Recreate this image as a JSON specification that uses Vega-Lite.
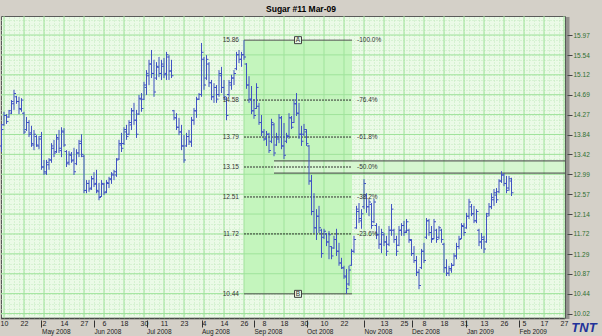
{
  "$schema": "https://vega.github.io/schema/vega-lite/v6.json",
  "width": 564,
  "height": 302,
  "autosize": {"type": "none"},
  "padding": {"left": 1, "top": 16, "right": 37, "bottom": 18},
  "background": "#d4d0c8",
  "title": {"text": "Sugar #11 Mar-09", "fontSize": 8.5, "fontWeight": "bold", "font": "Liberation Sans", "color": "#000000", "anchor": "middle", "dx": 18, "offset": -5, "baseline": "alphabetic"},
  "config": {
    "view": {"fill": "#ebfae7", "stroke": "#5a5a5a", "strokeWidth": 1},
    "font": "Liberation Sans"
  },
  "datasets": {
    "vgrid": [{"v":0},{"v":8},{"v":16},{"v":24},{"v":32},{"v":40},{"v":48},{"v":56},{"v":64},{"v":72},{"v":80},{"v":88},{"v":96},{"v":104},{"v":112},{"v":120},{"v":128},{"v":136},{"v":144},{"v":152},{"v":160},{"v":168},{"v":176},{"v":184},{"v":192},{"v":200},{"v":208},{"v":216},{"v":224}],
    "hgrid": [{"p":10.02},{"p":10.445},{"p":10.87},{"p":11.295},{"p":11.72},{"p":12.145},{"p":12.57},{"p":12.995},{"p":13.42},{"p":13.845},{"p":14.27},{"p":14.695},{"p":15.12},{"p":15.545},{"p":15.97}],
    "fib": [
      {"p":15.86,"lbl":"15.86","pct":"-100.0%","kind":"solid"},
      {"p":14.58,"lbl":"14.58","pct":"-76.4%","kind":"dot"},
      {"p":13.79,"lbl":"13.79","pct":"-61.8%","kind":"dot"},
      {"p":13.15,"lbl":"13.15","pct":"-50.0%","kind":"dot"},
      {"p":12.51,"lbl":"12.51","pct":"-38.2%","kind":"dot"},
      {"p":11.72,"lbl":"11.72","pct":"-23.6%","kind":"dot"},
      {"p":10.44,"lbl":"10.44","pct":"","kind":"solid"}
    ],
    "zone": [{"p":13.28},{"p":13.02}],
    "marks": [{"p":15.86,"t":"A"},{"p":10.44,"t":"B"}],
    "logo": [{"t":"TNT"}],
    "bars": [
{"i":-1,"o":13.60,"h":14.07,"l":13.47,"c":13.95},
{"i":0,"o":14.05,"h":14.33,"l":14.03,"c":14.25},
{"i":1,"o":14.25,"h":14.28,"l":14.07,"c":14.12},
{"i":2,"o":14.22,"h":14.37,"l":14.20,"c":14.35},
{"i":3,"o":14.30,"h":14.58,"l":14.28,"c":14.55},
{"i":4,"o":14.50,"h":14.80,"l":14.37,"c":14.72},
{"i":5,"o":14.65,"h":14.67,"l":14.50,"c":14.55},
{"i":6,"o":14.55,"h":14.65,"l":14.28,"c":14.40},
{"i":7,"o":14.38,"h":14.62,"l":14.33,"c":14.58},
{"i":8,"o":14.30,"h":14.33,"l":13.85,"c":13.90},
{"i":9,"o":13.95,"h":14.22,"l":13.92,"c":14.10},
{"i":10,"o":14.10,"h":14.15,"l":13.79,"c":13.85},
{"i":11,"o":13.88,"h":14.03,"l":13.58,"c":13.65},
{"i":12,"o":13.62,"h":13.94,"l":13.51,"c":13.85},
{"i":13,"o":13.80,"h":13.83,"l":13.58,"c":13.62},
{"i":14,"o":13.60,"h":13.81,"l":13.53,"c":13.75},
{"i":15,"o":13.80,"h":13.90,"l":13.09,"c":13.15},
{"i":16,"o":13.15,"h":13.30,"l":12.98,"c":13.05},
{"i":17,"o":13.02,"h":13.30,"l":12.98,"c":13.25},
{"i":18,"o":13.20,"h":13.34,"l":13.09,"c":13.30},
{"i":19,"o":13.30,"h":13.66,"l":13.24,"c":13.60},
{"i":20,"o":13.55,"h":13.73,"l":13.36,"c":13.45},
{"i":21,"o":13.48,"h":13.85,"l":13.45,"c":13.78},
{"i":22,"o":13.75,"h":13.94,"l":13.45,"c":13.55},
{"i":23,"o":13.50,"h":14.00,"l":13.36,"c":13.92},
{"i":24,"o":13.90,"h":13.98,"l":13.58,"c":13.62},
{"i":25,"o":13.48,"h":13.51,"l":13.15,"c":13.22},
{"i":26,"o":13.25,"h":13.49,"l":13.19,"c":13.42},
{"i":27,"o":13.40,"h":13.47,"l":13.24,"c":13.28},
{"i":28,"o":13.30,"h":13.56,"l":12.98,"c":13.05},
{"i":29,"o":13.22,"h":13.53,"l":13.19,"c":13.45},
{"i":30,"o":13.45,"h":13.73,"l":13.36,"c":13.65},
{"i":31,"o":13.70,"h":13.85,"l":13.36,"c":13.42},
{"i":32,"o":13.38,"h":13.41,"l":12.59,"c":12.65},
{"i":33,"o":12.65,"h":12.87,"l":12.59,"c":12.80},
{"i":34,"o":12.80,"h":12.87,"l":12.62,"c":12.68},
{"i":35,"o":12.70,"h":12.96,"l":12.66,"c":12.90},
{"i":36,"o":12.90,"h":13.04,"l":12.72,"c":12.78},
{"i":37,"o":12.80,"h":13.09,"l":12.59,"c":12.65},
{"i":38,"o":12.62,"h":12.81,"l":12.44,"c":12.50},
{"i":39,"o":12.52,"h":12.87,"l":12.51,"c":12.80},
{"i":40,"o":12.78,"h":12.81,"l":12.55,"c":12.60},
{"i":41,"o":12.62,"h":12.87,"l":12.59,"c":12.82},
{"i":42,"o":12.80,"h":12.94,"l":12.70,"c":12.90},
{"i":43,"o":12.88,"h":13.04,"l":12.79,"c":13.00},
{"i":44,"o":12.98,"h":13.09,"l":12.87,"c":13.05},
{"i":45,"o":12.98,"h":13.34,"l":12.94,"c":13.30},
{"i":46,"o":13.32,"h":13.73,"l":13.30,"c":13.65},
{"i":47,"o":13.62,"h":13.88,"l":13.47,"c":13.55},
{"i":48,"o":13.65,"h":14.00,"l":13.62,"c":13.95},
{"i":49,"o":13.90,"h":14.05,"l":13.73,"c":13.80},
{"i":50,"o":13.85,"h":14.15,"l":13.83,"c":14.10},
{"i":51,"o":14.05,"h":14.41,"l":13.94,"c":14.35},
{"i":52,"o":14.35,"h":14.52,"l":14.05,"c":14.15},
{"i":53,"o":14.15,"h":14.37,"l":13.77,"c":13.85},
{"i":54,"o":14.28,"h":14.69,"l":14.26,"c":14.62},
{"i":55,"o":14.60,"h":14.73,"l":14.33,"c":14.40},
{"i":56,"o":14.60,"h":14.97,"l":14.58,"c":14.90},
{"i":57,"o":14.85,"h":15.22,"l":14.69,"c":15.15},
{"i":58,"o":15.10,"h":15.44,"l":14.90,"c":15.35},
{"i":59,"o":15.35,"h":15.65,"l":15.05,"c":15.15},
{"i":60,"o":15.15,"h":15.44,"l":14.65,"c":14.75},
{"i":61,"o":15.05,"h":15.39,"l":15.01,"c":15.30},
{"i":62,"o":15.28,"h":15.50,"l":15.07,"c":15.15},
{"i":63,"o":15.15,"h":15.44,"l":15.01,"c":15.35},
{"i":64,"o":15.30,"h":15.48,"l":15.05,"c":15.12},
{"i":65,"o":15.15,"h":15.61,"l":15.01,"c":15.55},
{"i":66,"o":15.50,"h":15.54,"l":15.01,"c":15.20},
{"i":67,"o":15.20,"h":15.44,"l":15.05,"c":15.10},
{"i":68,"o":14.35,"h":14.37,"l":14.15,"c":14.20},
{"i":69,"o":14.20,"h":14.30,"l":13.94,"c":14.00},
{"i":70,"o":14.00,"h":14.20,"l":13.83,"c":13.90},
{"i":71,"o":13.90,"h":14.05,"l":13.51,"c":13.60},
{"i":72,"o":13.60,"h":13.83,"l":13.24,"c":13.30},
{"i":73,"o":13.60,"h":13.88,"l":13.58,"c":13.80},
{"i":74,"o":13.80,"h":13.94,"l":13.62,"c":13.70},
{"i":75,"o":13.68,"h":14.22,"l":13.58,"c":14.15},
{"i":76,"o":14.15,"h":14.41,"l":14.05,"c":14.35},
{"i":77,"o":14.35,"h":14.65,"l":14.20,"c":14.60},
{"i":78,"o":14.60,"h":14.73,"l":14.58,"c":14.70},
{"i":79,"o":14.70,"h":15.80,"l":14.65,"c":15.60},
{"i":80,"o":15.45,"h":15.50,"l":14.80,"c":14.90},
{"i":81,"o":15.05,"h":15.54,"l":15.01,"c":15.45},
{"i":82,"o":15.35,"h":15.39,"l":14.86,"c":14.95},
{"i":83,"o":14.95,"h":15.01,"l":14.58,"c":14.65},
{"i":84,"o":14.65,"h":14.94,"l":14.52,"c":14.85},
{"i":85,"o":14.85,"h":14.90,"l":14.52,"c":14.60},
{"i":86,"o":14.70,"h":15.22,"l":14.65,"c":15.15},
{"i":87,"o":15.10,"h":15.29,"l":14.73,"c":14.85},
{"i":88,"o":14.85,"h":15.01,"l":14.58,"c":14.65},
{"i":89,"o":14.60,"h":14.65,"l":14.15,"c":14.25},
{"i":90,"o":14.70,"h":15.01,"l":14.65,"c":14.95},
{"i":91,"o":14.90,"h":15.12,"l":14.80,"c":15.05},
{"i":92,"o":15.05,"h":15.22,"l":14.90,"c":15.15},
{"i":93,"o":15.25,"h":15.61,"l":15.22,"c":15.55},
{"i":94,"o":15.55,"h":15.65,"l":15.37,"c":15.45},
{"i":95,"o":15.45,"h":15.61,"l":15.29,"c":15.55},
{"i":96,"o":15.55,"h":15.86,"l":15.44,"c":15.50},
{"i":97,"o":15.35,"h":15.37,"l":14.82,"c":14.90},
{"i":98,"o":14.90,"h":15.09,"l":14.52,"c":14.60},
{"i":99,"o":14.60,"h":14.88,"l":14.28,"c":14.35},
{"i":100,"o":14.35,"h":14.60,"l":14.18,"c":14.25},
{"i":101,"o":14.40,"h":14.94,"l":14.39,"c":14.85},
{"i":102,"o":14.45,"h":14.52,"l":14.05,"c":14.10},
{"i":103,"o":14.10,"h":14.26,"l":13.81,"c":13.90},
{"i":104,"o":13.90,"h":13.96,"l":13.71,"c":13.75},
{"i":105,"o":13.75,"h":13.92,"l":13.60,"c":13.85},
{"i":106,"o":13.85,"h":13.88,"l":13.45,"c":13.50},
{"i":107,"o":13.70,"h":14.18,"l":13.66,"c":14.10},
{"i":108,"o":14.05,"h":14.09,"l":13.38,"c":13.45},
{"i":109,"o":13.62,"h":13.88,"l":13.60,"c":13.80},
{"i":110,"o":13.75,"h":14.28,"l":13.66,"c":14.20},
{"i":111,"o":14.20,"h":14.24,"l":13.53,"c":13.60},
{"i":112,"o":13.60,"h":14.09,"l":13.32,"c":13.40},
{"i":113,"o":13.70,"h":13.88,"l":13.66,"c":13.82},
{"i":114,"o":13.80,"h":14.30,"l":13.75,"c":14.20},
{"i":115,"o":14.20,"h":14.24,"l":13.96,"c":14.00},
{"i":116,"o":14.10,"h":14.60,"l":14.09,"c":14.50},
{"i":117,"o":14.50,"h":14.73,"l":14.24,"c":14.30},
{"i":118,"o":14.30,"h":14.52,"l":13.75,"c":13.85},
{"i":119,"o":13.85,"h":14.03,"l":13.60,"c":13.70},
{"i":120,"o":13.85,"h":14.07,"l":13.81,"c":13.95},
{"i":121,"o":13.90,"h":13.96,"l":13.60,"c":13.65},
{"i":122,"o":13.60,"h":13.62,"l":12.77,"c":12.85},
{"i":123,"o":12.85,"h":12.98,"l":12.12,"c":12.20},
{"i":124,"o":12.20,"h":12.59,"l":11.74,"c":11.85},
{"i":125,"o":11.85,"h":12.25,"l":11.59,"c":12.10},
{"i":126,"o":12.10,"h":12.32,"l":11.74,"c":11.85},
{"i":127,"o":11.80,"h":11.83,"l":11.21,"c":11.30},
{"i":128,"o":11.65,"h":11.83,"l":11.61,"c":11.78},
{"i":129,"o":11.72,"h":11.74,"l":11.46,"c":11.55},
{"i":130,"o":11.55,"h":11.78,"l":11.18,"c":11.70},
{"i":131,"o":11.45,"h":11.46,"l":11.18,"c":11.25},
{"i":132,"o":11.42,"h":11.68,"l":11.40,"c":11.60},
{"i":133,"o":11.60,"h":11.83,"l":11.25,"c":11.35},
{"i":134,"o":11.35,"h":11.53,"l":11.04,"c":11.10},
{"i":135,"o":11.10,"h":11.21,"l":10.97,"c":11.00},
{"i":136,"o":10.99,"h":11.04,"l":10.76,"c":10.82},
{"i":137,"o":10.80,"h":10.97,"l":10.44,"c":10.55},
{"i":138,"o":10.65,"h":11.04,"l":10.61,"c":10.95},
{"i":139,"o":11.05,"h":11.40,"l":11.04,"c":11.35},
{"i":140,"o":11.35,"h":11.68,"l":11.31,"c":11.60},
{"i":141,"o":11.85,"h":12.32,"l":11.83,"c":12.25},
{"i":142,"o":12.20,"h":12.38,"l":11.95,"c":12.05},
{"i":143,"o":12.00,"h":12.25,"l":11.83,"c":12.15},
{"i":144,"o":12.30,"h":12.89,"l":12.25,"c":12.80},
{"i":145,"o":12.55,"h":12.59,"l":12.17,"c":12.30},
{"i":146,"o":12.30,"h":12.47,"l":12.10,"c":12.40},
{"i":147,"o":12.35,"h":12.38,"l":11.83,"c":11.90},
{"i":148,"o":11.98,"h":12.47,"l":11.95,"c":12.40},
{"i":149,"o":11.90,"h":11.95,"l":11.61,"c":11.70},
{"i":150,"o":11.70,"h":11.89,"l":11.40,"c":11.50},
{"i":151,"o":11.50,"h":11.83,"l":11.31,"c":11.75},
{"i":152,"o":11.70,"h":11.74,"l":11.46,"c":11.55},
{"i":153,"o":11.55,"h":11.68,"l":11.25,"c":11.35},
{"i":154,"o":11.50,"h":11.89,"l":11.46,"c":11.80},
{"i":155,"o":11.80,"h":12.36,"l":11.68,"c":12.25},
{"i":156,"o":11.80,"h":11.83,"l":11.53,"c":11.60},
{"i":157,"o":11.60,"h":11.68,"l":11.25,"c":11.35},
{"i":158,"o":11.48,"h":11.89,"l":11.46,"c":11.80},
{"i":159,"o":11.80,"h":11.95,"l":11.68,"c":11.90},
{"i":160,"o":11.90,"h":12.00,"l":11.68,"c":11.75},
{"i":161,"o":11.78,"h":12.04,"l":11.74,"c":11.98},
{"i":162,"o":11.80,"h":11.83,"l":11.53,"c":11.60},
{"i":163,"o":11.58,"h":11.61,"l":11.25,"c":11.30},
{"i":164,"o":11.30,"h":11.46,"l":11.10,"c":11.15},
{"i":165,"o":11.15,"h":11.25,"l":10.82,"c":10.90},
{"i":166,"o":10.90,"h":10.97,"l":10.54,"c":10.62},
{"i":167,"o":11.00,"h":11.40,"l":10.97,"c":11.35},
{"i":168,"o":11.35,"h":11.53,"l":11.10,"c":11.15},
{"i":169,"o":11.65,"h":12.06,"l":11.61,"c":12.00},
{"i":170,"o":12.00,"h":12.04,"l":11.68,"c":11.75},
{"i":171,"o":11.75,"h":11.89,"l":11.53,"c":11.60},
{"i":172,"o":11.62,"h":12.04,"l":11.61,"c":11.98},
{"i":173,"o":11.80,"h":11.83,"l":11.53,"c":11.60},
{"i":174,"o":11.65,"h":11.89,"l":11.61,"c":11.85},
{"i":175,"o":11.80,"h":11.83,"l":11.53,"c":11.60},
{"i":176,"o":11.50,"h":11.53,"l":10.89,"c":11.00},
{"i":177,"o":11.00,"h":11.18,"l":10.82,"c":10.88},
{"i":178,"o":10.88,"h":11.04,"l":10.82,"c":10.98},
{"i":179,"o":10.95,"h":11.10,"l":10.89,"c":11.05},
{"i":180,"o":11.05,"h":11.31,"l":11.04,"c":11.25},
{"i":181,"o":11.25,"h":11.53,"l":11.18,"c":11.45},
{"i":182,"o":11.45,"h":11.68,"l":11.40,"c":11.60},
{"i":183,"o":11.62,"h":11.95,"l":11.61,"c":11.90},
{"i":184,"o":11.88,"h":11.95,"l":11.68,"c":11.75},
{"i":185,"o":11.85,"h":12.17,"l":11.83,"c":12.10},
{"i":186,"o":12.10,"h":12.47,"l":12.04,"c":12.40},
{"i":187,"o":12.30,"h":12.36,"l":12.10,"c":12.15},
{"i":188,"o":12.15,"h":12.32,"l":11.95,"c":12.00},
{"i":189,"o":12.00,"h":12.25,"l":11.95,"c":12.20},
{"i":190,"o":11.80,"h":11.83,"l":11.46,"c":11.55},
{"i":191,"o":11.55,"h":11.74,"l":11.40,"c":11.65},
{"i":192,"o":11.60,"h":11.68,"l":11.31,"c":11.40},
{"i":193,"o":11.55,"h":12.17,"l":11.53,"c":12.10},
{"i":194,"o":12.15,"h":12.38,"l":12.10,"c":12.30},
{"i":195,"o":12.30,"h":12.59,"l":12.25,"c":12.50},
{"i":196,"o":12.45,"h":12.68,"l":12.32,"c":12.60},
{"i":197,"o":12.55,"h":12.70,"l":12.38,"c":12.45},
{"i":198,"o":12.62,"h":12.89,"l":12.59,"c":12.85},
{"i":199,"o":12.85,"h":13.06,"l":12.81,"c":12.98},
{"i":200,"o":12.98,"h":13.02,"l":12.74,"c":12.80},
{"i":201,"o":12.80,"h":12.96,"l":12.59,"c":12.65},
{"i":202,"o":12.70,"h":12.96,"l":12.64,"c":12.90},
{"i":203,"o":12.85,"h":12.92,"l":12.53,"c":12.60}
    ]
  },
  "resolve": {"axis": {"x": "independent", "y": "independent"}},
  "layer": [
    {
      "data": {"name": "hgrid"},
      "mark": {"type": "rule", "opacity": 0},
      "encoding": {
        "x": {"datum": 0, "type": "quantitative", "scale": {"domain": [-1.2, 224.4], "nice": false, "zero": false},
          "axis": {"orient": "top", "title": null, "tickCount": 113, "labels": false, "ticks": false, "domain": false, "grid": true, "gridColor": "#c3ebbf", "gridDash": [1, 2], "gridWidth": 1}},
        "y": {"field": "p", "type": "quantitative", "scale": {"domain": [9.924, 16.376], "nice": false, "zero": false},
          "axis": {"orient": "left", "title": null, "values": [10.02,10.12625,10.2325,10.33875,10.445,10.55125,10.6575,10.76375,10.87,10.97625,11.0825,11.18875,11.295,11.40125,11.5075,11.61375,11.72,11.82625,11.9325,12.03875,12.145,12.25125,12.3575,12.46375,12.57,12.67625,12.7825,12.88875,12.995,13.10125,13.2075,13.31375,13.42,13.52625,13.6325,13.73875,13.845,13.95125,14.0575,14.16375,14.27,14.37625,14.4825,14.58875,14.695,14.80125,14.9075,15.01375,15.12,15.22625,15.3325,15.43875,15.545,15.65125,15.7575,15.86375,15.97,16.07625,16.1825,16.28875],
            "labels": false, "ticks": false, "domain": false, "grid": true, "gridColor": "#c3ebbf", "gridDash": [1, 2], "gridWidth": 1}}
      }
    },
    {
      "data": {"values": [{}]},
      "mark": {"type": "rect", "color": "#c4f5bd"},
      "encoding": {
        "x": {"datum": 96, "type": "quantitative", "scale": {"domain": [-1.2, 224.4], "nice": false, "zero": false}, "axis": null},
        "x2": {"datum": 139.2},
        "y": {"datum": 10.44, "type": "quantitative", "scale": {"domain": [9.924, 16.376], "nice": false, "zero": false}, "axis": null},
        "y2": {"datum": 15.86}
      }
    },
    {
      "data": {"values": [{}]},
      "mark": {"type": "rect", "color": "#d6f6d0"},
      "encoding": {
        "x": {"datum": 108, "type": "quantitative", "scale": {"domain": [-1.2, 224.4], "nice": false, "zero": false}, "axis": null},
        "x2": {"datum": 224.4},
        "y": {"datum": 13.02, "type": "quantitative", "scale": {"domain": [9.924, 16.376], "nice": false, "zero": false}, "axis": null},
        "y2": {"datum": 13.28}
      }
    },
    {
      "data": {"name": "vgrid"},
      "mark": {"type": "rule", "color": "#9fe39b", "strokeWidth": 1},
      "encoding": {
        "x": {"field": "v", "type": "quantitative", "scale": {"domain": [-1.2, 224.4], "nice": false, "zero": false},
          "axis": {"orient": "bottom", "title": null, "values": [15, 36, 57, 79, 100, 121, 144, 163, 185, 206],
            "labelExpr": "['May 2008','Jun 2008','Jul 2008','Aug 2008','Sep 2008','Oct 2008','Nov 2008','Dec 2008','Jan 2009','Feb 2009'][indexof([15,36,57,79,100,121,144,163,185,206], datum.value)]",
            "labelAlign": "left", "labelFontSize": 6.5, "labelColor": "#222222", "labelFont": "Liberation Sans", "domain": false, "ticks": true, "tickSize": 7, "tickColor": "#333333", "tickWidth": 1, "offset": 2, "labelPadding": 1, "grid": false, "labelOverlap": false, "labelFlush": false, "labelBound": false}}
      }
    },
    {
      "data": {"name": "hgrid"},
      "mark": {"type": "rule", "color": "#9fe39b", "strokeWidth": 1},
      "encoding": {
        "y": {"field": "p", "type": "quantitative", "scale": {"domain": [9.924, 16.376], "nice": false, "zero": false}, "axis": null}
      }
    },
    {
      "data": {"name": "zone"},
      "mark": {"type": "rule", "color": "#404040", "strokeWidth": 1},
      "encoding": {
        "x": {"datum": 108, "type": "quantitative", "scale": {"domain": [-1.2, 224.4], "nice": false, "zero": false}, "axis": null},
        "x2": {"datum": 224.4},
        "y": {"field": "p", "type": "quantitative", "scale": {"domain": [9.924, 16.376], "nice": false, "zero": false}, "axis": null}
      }
    },
    {
      "data": {"name": "fib"},
      "transform": [{"filter": "datum.kind == 'solid'"}],
      "mark": {"type": "rule", "color": "#505050", "strokeWidth": 1},
      "encoding": {
        "x": {"datum": 96, "type": "quantitative", "scale": {"domain": [-1.2, 224.4], "nice": false, "zero": false}, "axis": null},
        "x2": {"datum": 139.2},
        "y": {"field": "p", "type": "quantitative", "scale": {"domain": [9.924, 16.376], "nice": false, "zero": false}, "axis": null}
      }
    },
    {
      "data": {"name": "fib"},
      "transform": [{"filter": "datum.kind == 'dot'"}],
      "mark": {"type": "rule", "color": "#303030", "strokeWidth": 1, "strokeDash": [2, 1]},
      "encoding": {
        "x": {"datum": 96, "type": "quantitative", "scale": {"domain": [-1.2, 224.4], "nice": false, "zero": false}, "axis": null},
        "x2": {"datum": 139.2},
        "y": {"field": "p", "type": "quantitative", "scale": {"domain": [9.924, 16.376], "nice": false, "zero": false}, "axis": null}
      }
    },
    {
      "data": {"name": "bars"},
      "mark": {"type": "rule", "color": "#4052c4", "strokeWidth": 1},
      "encoding": {
        "x": {"field": "i", "type": "quantitative", "scale": {"domain": [-1.2, 224.4], "nice": false, "zero": false},
          "axis": {"orient": "bottom", "title": null, "values": [0,8,16,24,32,40,48,56,64,72,80,88,96,104,112,120,128,136,144,152,160,168,176,184,192,200,208,216,224],
            "labelExpr": "['10','22','2','14','27','6','18','30','11','23','4','14','26','8','18','30','10','22','','13','25','8','18','31','13','26','5','17','27'][round(datum.value/8)]",
            "labelFontSize": 7, "labelColor": "#222222", "labelFont": "Liberation Sans", "domain": true, "domainColor": "#333333", "domainDash": [1, 1], "domainWidth": 2, "ticks": false, "labelPadding": 1, "grid": false, "labelOverlap": false, "labelFlush": false, "labelBound": false}},
        "y": {"field": "l", "type": "quantitative", "scale": {"domain": [9.924, 16.376], "nice": false, "zero": false},
          "axis": {"orient": "right", "title": null, "values": [10.02,10.44,10.87,11.29,11.72,12.14,12.57,12.99,13.42,13.84,14.27,14.69,15.12,15.54,15.97], "format": ".2f",
            "labelFontSize": 6.5, "labelColor": "#2f6f2f", "labelFont": "Liberation Sans", "domain": true, "domainColor": "#555555", "domainDash": [1, 1], "domainWidth": 4, "offset": 2, "ticks": true, "tickSize": 5, "tickColor": "#444444", "labelPadding": 1, "grid": false, "labelOverlap": false, "labelFlush": false, "labelBound": false}},
        "y2": {"field": "h"}
      }
    },
    {
      "data": {"name": "bars"},
      "mark": {"type": "tick", "orient": "horizontal", "size": 2, "thickness": 1, "xOffset": -1, "color": "#4052c4", "opacity": 1},
      "encoding": {
        "x": {"field": "i", "type": "quantitative", "scale": {"domain": [-1.2, 224.4], "nice": false, "zero": false}, "axis": null},
        "y": {"field": "o", "type": "quantitative", "scale": {"domain": [9.924, 16.376], "nice": false, "zero": false}, "axis": null}
      }
    },
    {
      "data": {"name": "bars"},
      "mark": {"type": "tick", "orient": "horizontal", "size": 2, "thickness": 1, "xOffset": 1, "color": "#4052c4", "opacity": 1},
      "encoding": {
        "x": {"field": "i", "type": "quantitative", "scale": {"domain": [-1.2, 224.4], "nice": false, "zero": false}, "axis": null},
        "y": {"field": "c", "type": "quantitative", "scale": {"domain": [9.924, 16.376], "nice": false, "zero": false}, "axis": null}
      }
    },
    {
      "data": {"name": "fib"},
      "mark": {"type": "text", "align": "right", "baseline": "middle", "dx": -5, "fontSize": 6.5, "color": "#333333", "font": "Liberation Sans"},
      "encoding": {
        "x": {"datum": 96, "type": "quantitative", "scale": {"domain": [-1.2, 224.4], "nice": false, "zero": false}, "axis": null},
        "y": {"field": "p", "type": "quantitative", "scale": {"domain": [9.924, 16.376], "nice": false, "zero": false}, "axis": null},
        "text": {"field": "lbl"}
      }
    },
    {
      "data": {"name": "fib"},
      "mark": {"type": "text", "align": "left", "baseline": "middle", "dx": 5, "fontSize": 6.5, "color": "#333333", "font": "Liberation Sans"},
      "encoding": {
        "x": {"datum": 139.2, "type": "quantitative", "scale": {"domain": [-1.2, 224.4], "nice": false, "zero": false}, "axis": null},
        "y": {"field": "p", "type": "quantitative", "scale": {"domain": [9.924, 16.376], "nice": false, "zero": false}, "axis": null},
        "text": {"field": "pct"}
      }
    },
    {
      "data": {"name": "marks"},
      "mark": {"type": "point", "shape": "square", "size": 49, "filled": true, "fill": "#e6f6e2", "stroke": "#404040", "strokeWidth": 1, "opacity": 1},
      "encoding": {
        "x": {"datum": 117.6, "type": "quantitative", "scale": {"domain": [-1.2, 224.4], "nice": false, "zero": false}, "axis": null},
        "y": {"field": "p", "type": "quantitative", "scale": {"domain": [9.924, 16.376], "nice": false, "zero": false}, "axis": null}
      }
    },
    {
      "data": {"name": "marks"},
      "mark": {"type": "text", "align": "center", "baseline": "middle", "fontSize": 6.5, "color": "#303030", "font": "Liberation Sans"},
      "encoding": {
        "x": {"datum": 117.6, "type": "quantitative", "scale": {"domain": [-1.2, 224.4], "nice": false, "zero": false}, "axis": null},
        "y": {"field": "p", "type": "quantitative", "scale": {"domain": [9.924, 16.376], "nice": false, "zero": false}, "axis": null},
        "text": {"field": "t"}
      }
    },
    {
      "data": {"name": "logo"},
      "mark": {"type": "text", "align": "center", "baseline": "middle", "fontSize": 13, "fontWeight": "bold", "fontStyle": "italic", "color": "#22339a", "font": "Liberation Sans"},
      "encoding": {
        "x": {"datum": 232, "type": "quantitative", "scale": {"domain": [-1.2, 224.4], "nice": false, "zero": false}, "axis": null},
        "y": {"datum": 9.72, "type": "quantitative", "scale": {"domain": [9.924, 16.376], "nice": false, "zero": false}, "axis": null},
        "text": {"field": "t"}
      }
    }
  ]
}
